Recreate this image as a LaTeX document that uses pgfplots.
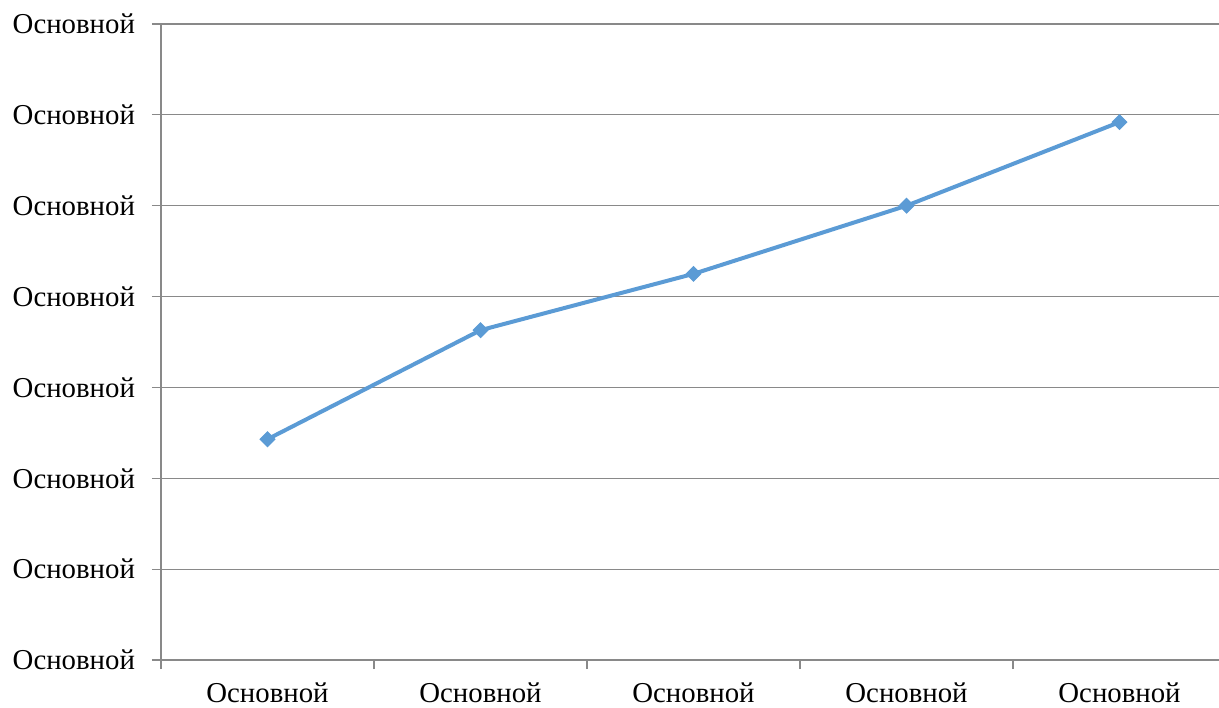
\documentclass[border=0pt]{standalone}
\usepackage{fontspec}
\setmainfont{Liberation Serif}
\usepackage{pgfplots}
\pgfplotsset{compat=1.18}
\definecolor{lineblue}{HTML}{5B9BD5}
\definecolor{gridgray}{HTML}{898989}

\begin{document}
\begin{tikzpicture}
\begin{axis}[
    name=ax,
    scale only axis,
    width=529pt, height=318pt,
    xmin=0.5, xmax=5.467,
    ymin=0, ymax=7,
    axis x line*=bottom,
    axis y line*=left,
    axis line style={gridgray, line width=0.6pt},
    tick align=outside,
    major tick length=4.5pt,
    tick style={gridgray, line width=0.6pt},
    xtick={0.5,1.5,2.5,3.5,4.5},
    xticklabels={},
    extra x ticks={1,2,3,4,5},
    extra x tick labels={Основной,Основной,Основной,Основной,Основной},
    extra x tick style={major tick length=0pt, grid=none},
    ytick={0,1,2,3,4,5,6,7},
    yticklabels={Основной,Основной,Основной,Основной,Основной,Основной,Основной,Основной},
    ymajorgrids,
    grid style={gridgray, line width=0.6pt},
    tick label style={font=\fontsize{14.4}{17}\selectfont, black},
    yticklabel style={xshift=-5pt},
    xticklabel style={yshift=-8pt},
    clip=false,
]
\addplot[color=lineblue, line width=2pt, mark=square*, mark size=2.6pt,
         mark options={rotate=45, fill=lineblue, draw=lineblue, line width=0.5pt}]
  coordinates {(1,2.43) (2,3.63) (3,4.25) (4,5.0) (5,5.92)};
\end{axis}
\pgfresetboundingbox
\path[use as bounding box] ([shift={(-80.5pt,-23.5pt)}]ax.south west)
    rectangle ([shift={(529pt,330pt)}]ax.south west);
\end{tikzpicture}
\end{document}
